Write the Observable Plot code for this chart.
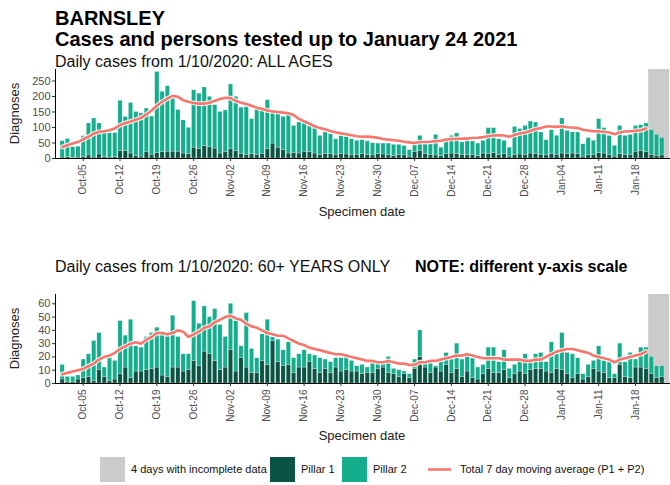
<!DOCTYPE html>
<html><head><meta charset="utf-8">
<script src="https://cdn.jsdelivr.net/npm/d3@7"></script>
<script src="https://cdn.jsdelivr.net/npm/@observablehq/plot@0.6"></script>
<style>
body{margin:0;background:#fff;overflow:hidden;font-family:"Liberation Sans",Arial,sans-serif;}
#wrap{position:relative;width:670px;height:485px;overflow:hidden;background:#fff;}
#p1,#p2{position:absolute;left:0;}
#p1{top:60px;} #p2{top:285px;}
#ov{position:absolute;left:0;top:0;pointer-events:none;}
</style></head><body><div id="wrap"><div id="p1"></div><div id="p2"></div>
<svg id="ov" width="670" height="485" font-family="Liberation Sans, Arial, sans-serif"></svg></div>
<script>
// ---- data (1 Oct 2020 .. 24 Jan 2021, one value per day) ----
const firstDay = "2020-10-01";
const lastDay = "2021-01-24";
const seriesNames = ["Pillar 1", "Pillar 2"];
const tickDates = ["2020-10-05","2020-10-12","2020-10-19","2020-10-26","2020-11-02","2020-11-09","2020-11-16","2020-11-23","2020-11-30","2020-12-07","2020-12-14","2020-12-21","2020-12-28","2021-01-04","2021-01-11","2021-01-18"];
const incompleteDays = ["2021-01-21","2021-01-22","2021-01-23","2021-01-24"];
const yTicksAll = [0,50,100,150,200,250];
const yTicks60 = [0,10,20,30,40,50,60];

// ALL AGES
const allPillar1 = [3,4,2,3,4,10,3,13,5,3,4,24,25,16,8,6,20,12,18,20,22,22,22,16,15,35,30,40,36,32,16,20,
30,25,15,12,14,12,15,30,48,35,27,16,18,16,22,20,16,12,14,14,12,15,13,10,12,14,
12,10,14,13,10,8,12,10,6,20,25,14,12,10,8,14,16,14,12,10,12,8,16,15,18,12,14,6,12,13,12,16,15,12,10,14,12,16,14,16,14,6,10,12,18,16,12,6,14,12,12,22,25,20,12,8,10,0];
const allPillar2 = [53,59,35,35,68,103,126,100,79,79,78,162,109,163,142,139,141,123,261,195,211,171,134,107,84,185,179,189,163,140,134,135,
209,174,149,154,113,154,139,158,106,113,107,127,87,100,94,85,84,61,70,64,50,58,57,52,45,45,
43,39,34,35,38,36,32,30,21,35,48,32,34,66,27,41,57,67,40,45,43,40,41,83,80,50,43,29,90,82,93,103,101,72,49,77,61,113,75,68,70,40,56,45,109,82,61,35,91,61,64,83,82,93,79,68,56,0];
const allAvg = [37,43,48,53,62,70,80,86,88,91,97,108,114,119,125,131,142,155,170,183,193,202,199,188,183,179,177,177,180,186,192,196,195,186,180,176,170,164,160,155,152,150,148,146,140,128,120,112,104,98,94,89,85,81,78,75,72,70,
71,69,67,63,61,59,57,54,52,50,53,53,54,56,57,61,63,63,64,64,66,67,69,72,74,75,74,70,76,81,84,89,95,98,103,103,102,104,101,100,98,93,90,88,88,86,84,78,84,87,88,89,91,97,null,null,null,null];

// 60+ YEARS ONLY
const oldPillar1 = [3,1,1,3,4,5,2,10,5,2,3,7,12,4,9,9,10,11,12,6,5,12,12,9,10,17,13,24,22,17,10,12,
25,9,19,12,8,8,17,14,32,16,13,14,8,12,12,16,11,8,11,8,12,9,10,9,9,7,
8,8,11,12,8,7,5,7,4,11,20,12,8,12,9,14,
8,11,5,9,4,3,7,11,8,8,10,4,7,9,7,10,11,11,9,8,11,10,7,4,7,3,5,11,9,8,4,4,14,5,4,12,12,11,7,4,5,0];
const oldPillar2 = [11,4,4,3,14,17,30,28,7,17,14,40,24,44,19,18,25,27,30,33,31,39,23,13,12,45,32,34,28,39,34,23,
35,38,9,41,18,11,20,34,3,17,12,17,11,10,13,6,10,11,7,8,7,10,12,8,4,7,
4,7,4,3,12,4,5,2,3,7,20,4,7,1,9,9,
10,19,13,14,15,9,7,16,19,8,15,7,7,8,15,8,11,12,7,23,11,28,16,18,12,4,9,6,19,9,12,3,16,11,19,6,15,16,13,9,8,0];
const oldAvg = [7,8,9,10,11,13,15,18,20,21,23,26,28,30,31,30,33,35,38,38,37,38,40,39,35,37,39,42,43,46,48,50,51,49,48,45,43,42,40,38,37,36,36,34,32,30,29,27,26,25,24,23,22,22,21,20,19,18,
17,17,16,16,17,16,15,15,14,14,16,16,17,17,18,19,20,21,21,22,21,20,19,19,19,19,18,18,18,18,17,17,18,18,20,22,24,25,26,26,25,24,23,21,20,19,18,16,18,19,20,21,22,24,null,null,null,null];

// ---- styling ----
const colP1 = "#0b5443", colP2 = "#14ae8c", colLine = "#f8766d", colGrey = "#cbcbcb";
const noon = s => new Date(s + "T12:00:00Z");
const dates = d3.utcDay.range(new Date(firstDay + "T00:00:00Z"), d3.utcDay.offset(new Date(lastDay + "T00:00:00Z"), 1)).map(d => d3.utcHour.offset(d, 12));
const xDomain = [new Date("2020-09-30T05:40:00Z"), new Date("2021-01-25T03:40:00Z")];

function panel(p1, p2, avg, yMax, yTicks) {
  const bars = [];
  dates.forEach((d, i) => bars.push({date: d, series: seriesNames[0], v: p1[i]}));
  dates.forEach((d, i) => bars.push({date: d, series: seriesNames[1], v: p2[i]}));
  const line = dates.map((d, i) => ({date: d, v: avg[i]}));
  const inc = incompleteDays.map(noon);
  return Plot.plot({
    width: 670, height: 160, marginTop: 9, marginBottom: 62, marginLeft: 55, marginRight: 0,
    style: {fontFamily: "Liberation Sans, Arial, sans-serif", background: "white", overflow: "visible"},
    x: {type: "utc", domain: xDomain, label: null},
    y: {domain: [0, yMax], label: null},
    color: {domain: seriesNames, range: [colP1, colP2]},
    marks: [
      Plot.rect([inc], {x1: d => d3.utcDay.floor(d[0]), x2: d => d3.utcDay.ceil(d[d.length - 1]), y1: 0, y2: yMax, fill: colGrey}),
      Plot.rectY(bars, {x: "date", interval: d3.utcDay, y: "v", fill: "series", stroke: "white", strokeOpacity: 0.45, strokeWidth: 0.5}),
      Plot.line(line, {x: "date", y: "v", stroke: "white", strokeWidth: 4.8, strokeOpacity: 0.85}),
      Plot.line(line, {x: "date", y: "v", stroke: colLine, strokeWidth: 2.6}),
      Plot.ruleY([0], {stroke: "black", strokeWidth: 1}),
      Plot.frame({anchor: "left", stroke: "black", strokeWidth: 1}),
      Plot.axisX({ticks: tickDates.map(noon), tickFormat: d3.utcFormat("%b-%d"), tickRotate: -90, tickSize: 3, tickPadding: 3, fontSize: 10, color: "#4d4d4d", stroke: "#333", label: null}),
      Plot.axisY({ticks: yTicks, tickSize: 3, tickPadding: 2, fontSize: 11, color: "#4d4d4d", stroke: "#333", label: null})
    ]
  });
}

document.getElementById("p1").appendChild(panel(allPillar1, allPillar2, allAvg, 287, yTicksAll));
document.getElementById("p2").appendChild(panel(oldPillar1, oldPillar2, oldAvg, 67, yTicks60));

// ---- overlay text / legend ----
const ov = d3.select("#ov");
function txt(x, y, s, size, opts = {}) {
  const t = ov.append("text").attr("x", x).attr("y", y).attr("font-size", size).attr("fill", opts.fill || "#000").text(s);
  if (opts.bold) t.attr("font-weight", "bold");
  if (opts.anchor) t.attr("text-anchor", opts.anchor);
  if (opts.rotate) t.attr("transform", `rotate(-90 ${x} ${y})`);
  return t;
}
txt(55, 25, "BARNSLEY", 20, {bold: true});
txt(55, 46, "Cases and persons tested up to January 24 2021", 20, {bold: true});
txt(55, 67, "Daily cases from 1/10/2020: ALL AGES", 16, {fill: "#111"});
txt(18.5, 113.5, "Diagnoses", 13, {anchor: "middle", rotate: true, fill: "#222"});
txt(362, 216, "Specimen date", 13, {anchor: "middle", fill: "#222"});
txt(55, 272, "Daily cases from 1/10/2020: 60+ YEARS ONLY", 16, {fill: "#111"});
txt(415, 272, "NOTE: different y-axis scale", 16, {bold: true});
txt(18.5, 338.5, "Diagnoses", 13, {anchor: "middle", rotate: true, fill: "#222"});
txt(362, 440, "Specimen date", 13, {anchor: "middle", fill: "#222"});

const legendItems = [
  {label: "4 days with incomplete data", kind: "box", color: colGrey, x: 100},
  {label: seriesNames[0], kind: "box", color: colP1, x: 270},
  {label: seriesNames[1], kind: "box", color: colP2, x: 342},
  {label: "Total 7 day moving average (P1 + P2)", kind: "line", color: colLine, x: 428}
];
legendItems.forEach(it => {
  if (it.kind === "box") {
    ov.append("rect").attr("x", it.x).attr("y", 457).attr("width", 25).attr("height", 25).attr("fill", it.color);
    txt(it.x + 31, 473, it.label, 11, {fill: "#111"});
  } else {
    ov.append("line").attr("x1", it.x).attr("x2", it.x + 23).attr("y1", 469.5).attr("y2", 469.5).attr("stroke", it.color).attr("stroke-width", 2.6);
    txt(it.x + 32, 473, it.label, 11, {fill: "#111"});
  }
});
</script></body></html>
